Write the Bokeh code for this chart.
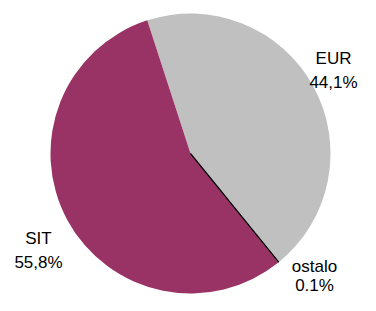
import math
from bokeh.plotting import figure
from bokeh.models import Range1d, ColumnDataSource
from bokeh.core.properties import value
from bokeh.embed import file_html
from bokeh.resources import INLINE

categories = ["EUR", "ostalo", "SIT"]
shares = [44.1, 0.1, 55.8]
labels = ["44,1%", "0.1%", "55,8%"]
colors = ["#C0C0C0", "#000000", "#993366"]

W, H = 360, 295
cx, cy, r = 190, H - 153, 140
start_deg = 108.0  # first slice starts here, going clockwise

starts, ends = [], []
a = start_deg
total = sum(shares)
for s in shares:
    starts.append(math.radians(a))
    a -= s / total * 360.0
    ends.append(math.radians(a))

p = figure(width=W, height=H, output_backend="svg", toolbar_location=None,
           x_range=Range1d(0, W), y_range=Range1d(0, H), min_border=0)
p.axis.visible = False
p.grid.visible = False
p.outline_line_color = None
p.background_fill_color = "white"

src = ColumnDataSource(dict(start=starts, end=ends, color=colors))
p.wedge(x=cx, y=cy, radius=r, start_angle="start", end_angle="end",
        direction="clock", fill_color="color", line_color=None, source=src)
# ostalo thin slice drawn as a line on its boundary
mid = (starts[1] + ends[1]) / 2
p.segment(x0=[cx], y0=[cy], x1=[cx + r * math.cos(mid)], y1=[cy + r * math.sin(mid)],
          line_color="black", line_width=1.2)

lab_x = [333, 314, 38]
lab_y1 = [H - 58, H - 266, H - 238]
lab_y2 = [H - 82, H - 285, H - 262]
font = value("Liberation Sans")
p.text(x=lab_x, y=lab_y1, text=categories, text_align="center", text_baseline="alphabetic",
       text_font=font, text_font_size="17px", text_color="black")
p.text(x=lab_x, y=lab_y2, text=labels, text_align="center", text_baseline="alphabetic",
       text_font=font, text_font_size="17px", text_color="black")

open("out.html", "w").write(file_html(p, INLINE))
